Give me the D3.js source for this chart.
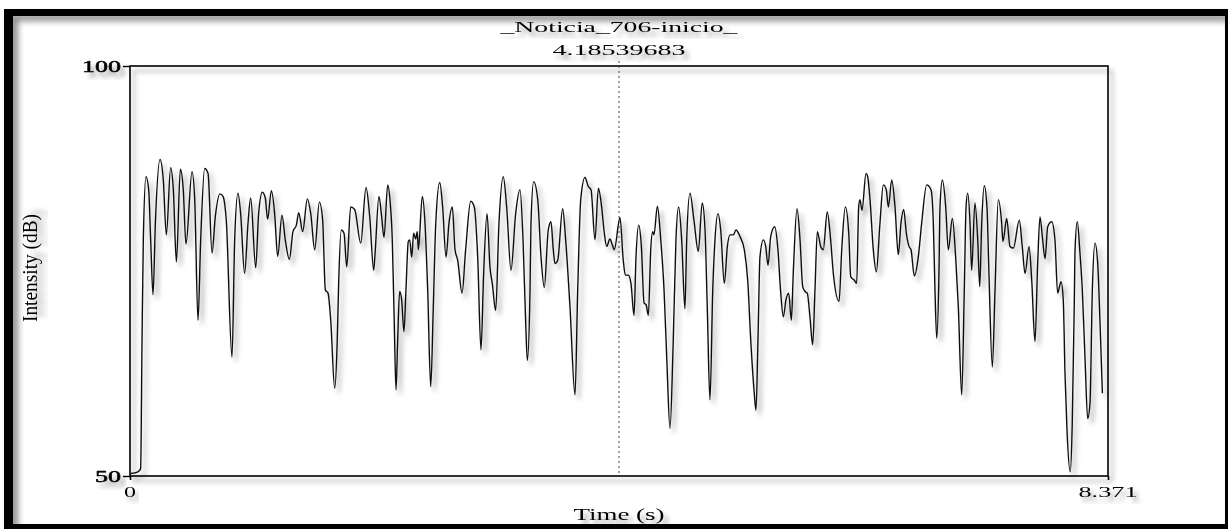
<!DOCTYPE html>
<html><head><meta charset="utf-8">
<script src="https://cdn.jsdelivr.net/npm/d3@7"></script>
<style>html,body{margin:0;padding:0;background:#fff;} svg{display:block}</style>
</head><body>
<svg id="chart" width="1228" height="529"></svg>
<script>
// Intensity contour of the sound "_Noticia_706-inicio_"
const soundName = "_Noticia_706-inicio_";
const cursorTime = 4.18539683;
const cursorLabel = "4.18539683";
const totalDuration = 8.371;
const timeTicks = [0, 8.371];
const timeTickLabels = ["0", "8.371"];
const dbTicks = [50, 100];
const dbTickLabels = ["50", "100"];
const xTitle = "Time (s)";
const yTitle = "Intensity (dB)";

// time (s) of each contour point
const times = [
0.006,0.068,0.091,0.103,0.114,0.137,0.160,0.177,0.197,0.217,
0.257,0.285,0.311,0.348,0.371,0.397,0.431,0.456,0.479,0.531,
0.554,0.582,0.605,0.639,0.668,0.702,0.730,0.770,0.796,0.824,
0.873,0.896,0.924,0.947,0.981,1.010,1.033,1.076,1.101,1.133,
1.158,1.178,1.210,1.238,1.264,1.301,1.329,1.364,1.395,1.424,
1.444,1.478,1.518,1.547,1.581,1.621,1.649,1.672,1.695,1.718,
1.752,1.774,1.786,1.809,1.832,1.855,1.889,1.923,1.975,2.020,
2.052,2.086,2.097,2.131,2.154,2.174,2.206,2.225,2.245,2.262,
2.277,2.291,2.308,2.325,2.345,2.362,2.382,2.394,2.411,2.428,
2.445,2.459,2.468,2.502,2.525,2.548,2.574,2.596,2.617,2.651,
2.676,2.705,2.730,2.759,2.782,2.805,2.842,2.873,2.916,2.947,
2.976,3.004,3.027,3.056,3.081,3.101,3.130,3.158,3.195,3.224,
3.261,3.301,3.338,3.364,3.387,3.401,3.424,3.432,3.455,3.490,
3.518,3.546,3.580,3.603,3.623,3.638,3.661,3.703,3.729,3.766,
3.809,3.832,3.858,3.894,3.923,3.946,3.980,4.009,4.037,4.060,
4.080,4.108,4.128,4.145,4.194,4.222,4.240,4.265,4.288,4.314,
4.331,4.354,4.377,4.400,4.417,4.437,4.457,4.474,4.485,4.514,
4.543,4.571,4.594,4.622,4.650,4.673,4.696,4.722,4.750,4.765,
4.793,4.827,4.864,4.898,4.922,4.941,4.964,4.988,5.007,5.033,
5.056,5.087,5.113,5.136,5.164,5.187,5.221,5.258,5.287,5.313,
5.341,5.358,5.375,5.392,5.421,5.441,5.461,5.484,5.518,5.546,
5.570,5.592,5.615,5.638,5.661,5.677,5.709,5.735,5.758,5.778,
5.797,5.820,5.843,5.863,5.883,5.912,5.934,5.968,5.997,6.020,
6.069,6.092,6.123,6.152,6.169,6.198,6.220,6.237,6.248,6.265,
6.300,6.314,6.334,6.362,6.388,6.419,6.448,6.473,6.491,6.520,
6.548,6.576,6.599,6.622,6.645,6.668,6.685,6.713,6.747,6.776,
6.819,6.856,6.876,6.890,6.905,6.924,6.933,6.953,6.982,7.004,
7.039,7.067,7.090,7.119,7.141,7.156,7.170,7.190,7.204,7.232,
7.256,7.273,7.290,7.312,7.335,7.352,7.381,7.404,7.432,7.461,
7.472,7.504,7.532,7.561,7.612,7.637,7.661,7.695,7.718,7.746,
7.769,7.789,7.809,7.832,7.855,7.889,7.917,7.940,7.969,7.988,
8.003,8.020,8.048,8.065,8.083,8.088,8.108,8.131,8.151,8.174,
8.197,8.217,8.237,8.260,8.283,8.303,8.323
];

// intensity (dB) at each time above
const intensity = [
50.3,50.5,50.9,66.6,78.8,86.5,84.9,78.8,72.1,80.8,
88.6,86.1,79.4,87.6,84.9,76.1,87.4,84.9,78.3,87.1,
83.7,69.0,78.8,87.5,86.9,77.2,81.6,84.4,84.1,81.2,
64.5,78.8,84.5,82.0,74.7,80.8,83.9,75.4,82.0,84.6,
83.9,81.3,84.8,82.0,76.8,81.8,78.8,76.4,79.8,80.6,
82.1,79.8,83.8,82.0,77.6,83.4,81.2,72.7,72.3,69.0,
60.7,66.6,73.5,80.0,79.6,75.5,82.8,82.5,78.4,85.2,
81.6,75.1,77.0,84.1,81.6,79.1,85.5,83.7,78.8,68.6,
60.5,66.6,72.5,71.5,67.6,72.7,78.6,78.8,76.7,79.6,
78.9,79.8,77.6,84.1,80.8,72.7,60.9,70.6,80.8,85.8,
82.8,76.7,80.8,82.8,77.6,76.3,72.3,77.6,83.5,82.8,
76.7,65.4,74.7,82.0,75.5,73.5,70.2,80.8,86.5,82.8,
75.1,82.0,84.9,78.8,68.6,64.1,72.7,80.8,85.9,83.7,
76.7,73.0,80.0,81.0,77.6,75.9,76.3,82.6,78.8,70.6,
59.9,72.7,83.7,86.4,85.3,84.9,78.8,85.1,82.8,79.6,
78.0,78.9,78.2,77.6,81.5,76.3,74.5,74.5,73.5,69.6,
76.7,80.6,78.0,71.1,70.9,69.6,77.6,79.8,79.4,82.9,
78.8,72.7,64.5,55.8,66.6,78.8,82.8,78.8,70.4,78.8,
84.5,81.2,77.4,83.3,80.0,70.6,59.3,72.7,78.8,82.0,
80.0,73.5,78.0,79.4,79.4,80.0,79.2,77.6,73.9,66.6,
60.5,58.0,66.6,76.7,78.8,78.0,75.7,79.2,80.4,77.6,
72.3,69.4,71.5,72.3,69.0,74.7,82.6,78.8,73.1,72.5,
72.3,69.4,66.0,72.7,79.8,78.0,77.6,82.2,78.8,74.7,
71.3,77.6,82.8,79.6,74.3,73.9,73.5,82.8,83.7,82.4,
86.9,86.5,83.7,77.6,74.9,80.8,85.5,84.9,82.8,86.1,
82.8,77.0,80.8,82.5,79.6,78.0,77.6,74.4,76.7,80.8,
85.5,84.9,80.8,72.7,66.8,74.7,82.8,86.1,82.8,77.6,
81.4,76.7,70.6,59.9,72.7,82.8,84.5,80.8,75.1,83.3,
78.8,73.1,80.8,85.4,82.8,74.7,63.3,72.7,83.7,80.8,
78.6,81.4,78.0,77.8,81.2,78.0,74.7,78.0,73.9,66.4,
75.9,81.6,79.2,76.5,80.4,81.0,78.8,72.3,73.7,71.5,
62.5,55.6,50.5,56.4,71.5,77.2,81.0,77.2,72.7,64.5,
57.0,58.9,72.7,78.4,75.9,68.6,60.1
];

const points = times.map((t, i) => ({ t, db: intensity[i] }));

const svg = d3.select("#chart");
const W = 1228, H = 529;
const plot = { left: 130, right: 1108, top: 66, bottom: 476 };

const x = d3.scaleLinear().domain([0, totalDuration]).range([plot.left, plot.right]);
const y = d3.scaleLinear().domain([50, 100]).range([plot.bottom, plot.top]);

// soft grey drop shadow used on every drawn element
const defs = svg.append("defs");
const shadow = defs.append("filter").attr("id", "shadow")
  .attr("x", "-10%").attr("y", "-10%").attr("width", "130%").attr("height", "130%");
shadow.append("feDropShadow").attr("dx", 4).attr("dy", 5).attr("stdDeviation", 2.8)
  .attr("flood-color", "#000").attr("flood-opacity", 0.38);
const frameShadow = defs.append("filter").attr("id", "frameShadow")
  .attr("x", "-5%").attr("y", "-5%").attr("width", "110%").attr("height", "110%");
frameShadow.append("feDropShadow").attr("dx", 5).attr("dy", 5).attr("stdDeviation", 3)
  .attr("flood-color", "#000").attr("flood-opacity", 0.45);

svg.append("rect").attr("width", W).attr("height", H).attr("fill", "#fff");

// heavy outer frame
svg.append("path")
  .attr("fill-rule", "evenodd")
  .attr("fill", "#000")
  .attr("filter", "url(#frameShadow)")
  .attr("d", "M4,9H1232V533H4Z M13,16V524H1225V16Z");

// plot box
svg.append("rect")
  .attr("x", plot.left).attr("y", plot.top)
  .attr("width", plot.right - plot.left).attr("height", plot.bottom - plot.top)
  .attr("fill", "none").attr("stroke", "#000").attr("stroke-width", 1.6)
  .attr("filter", "url(#shadow)");

// tick marks
const yAxis = d3.axisLeft(y).tickValues(dbTicks).tickSize(7).tickFormat("");
const gy = svg.append("g").attr("transform", `translate(${plot.left},0)`).call(yAxis);
gy.select(".domain").remove();
gy.selectAll("line").attr("stroke-width", 1.4);

const xAxis = d3.axisBottom(x).tickValues(timeTicks).tickSize(4).tickFormat("");
const gx = svg.append("g").attr("transform", `translate(0,${plot.bottom})`).call(xAxis);
gx.select(".domain").remove();
gx.selectAll("line").attr("stroke-width", 1.6);

// stretched serif text helper
const FONT = "'Liberation Serif', 'Times New Roman', serif";
function label(px, py, txt, size, len, anchor, weight) {
  return svg.append("text")
    .attr("x", px).attr("y", py)
    .attr("font-family", FONT).attr("font-size", size)
    .attr("font-weight", weight || "normal")
    .attr("text-anchor", anchor)
    .attr("textLength", len).attr("lengthAdjust", "spacingAndGlyphs")
    .attr("fill", "#000").attr("filter", "url(#shadow)")
    .text(txt);
}

// y tick labels
dbTicks.forEach((v, i) => {
  const w = dbTickLabels[i].length * 13;
  label(plot.left - 9, y(v) + 5.5, dbTickLabels[i], 16.5, w, "end", "normal")
    .attr("stroke", "#000").attr("stroke-width", 0.5);
});
// x tick labels
timeTicks.forEach((v, i) => {
  const txt = timeTickLabels[i];
  const w = txt === "0" ? 12 : 59;
  label(x(v), 497, txt, 15.5, w, "middle", "normal");
});

// cursor
const cx = x(cursorTime);
svg.append("line")
  .attr("x1", cx).attr("x2", cx).attr("y1", 61).attr("y2", plot.bottom)
  .attr("stroke", "#444").attr("stroke-width", 1).attr("stroke-dasharray", "2,3");

// title lines
label(cx, 32, soundName, 15, 237, "middle");
label(cx, 55, cursorLabel, 15, 133, "middle");

// axis titles
label(cx, 520, xTitle, 16, 91, "middle");
svg.append("text")
  .attr("transform", `translate(37,268) scale(1.35,1) rotate(-90)`)
  .attr("font-family", FONT).attr("font-size", 15)
  .attr("text-anchor", "middle")
  .attr("textLength", 108).attr("lengthAdjust", "spacingAndGlyphs")
  .attr("filter", "url(#shadow)")
  .text(yTitle);

// intensity contour
const line = d3.line()
  .x(d => x(d.t))
  .y(d => y(d.db))
  .curve(d3.curveMonotoneX);

svg.append("path")
  .datum(points)
  .attr("fill", "none")
  .attr("stroke", "#111")
  .attr("stroke-width", 1.4)
  .attr("stroke-linejoin", "round")
  .attr("filter", "url(#shadow)")
  .attr("d", line);
</script>
</body></html>
